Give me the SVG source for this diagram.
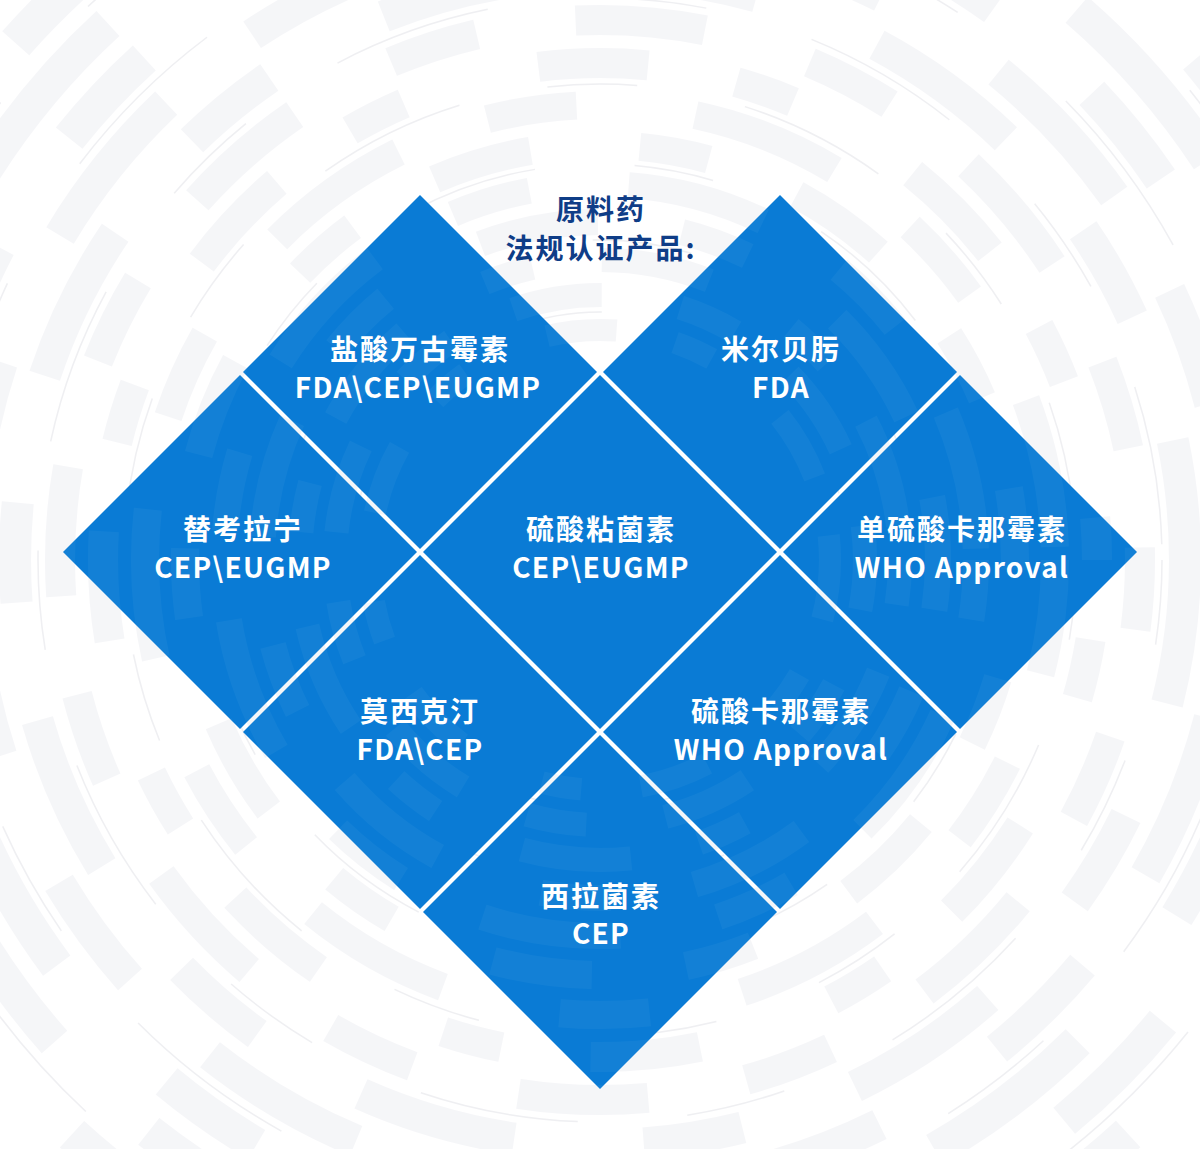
<svg xmlns="http://www.w3.org/2000/svg" xmlns:xlink="http://www.w3.org/1999/xlink" width="1200" height="1149" viewBox="0 0 1200 1149">
  <style>
    .tile { fill: #0b7cd5; }
    .lbl { font-family: "Noto Sans CJK SC", "Noto Sans", sans-serif; font-weight: 700; font-size: 28px; letter-spacing: 2px; text-anchor: middle; fill: #ffffff; }
    .lat { letter-spacing: 1.3px; }
    .title { font-family: "Noto Sans CJK SC", "Noto Sans", sans-serif; font-weight: 700; font-size: 28px; letter-spacing: 2px; text-anchor: middle; fill: #0f3d87; }
  </style>
  <defs>
    <path id="dia" d="M0,-177 L177,0 L0,177 L-177,0 Z"/>
    <g id="rings" fill="none">
      <circle cx="600" cy="560" r="230" stroke-width="22" stroke-dasharray="70 60 40 90" stroke-dashoffset="10"/>
      <circle cx="600" cy="560" r="265" stroke-width="24" stroke-dasharray="90 80 60 70" stroke-dashoffset="40"/>
      <circle cx="600" cy="560" r="300" stroke-width="24" stroke-dasharray="50 70 110 95" stroke-dashoffset="5"/>
      <circle cx="600" cy="560" r="338" stroke-width="26" stroke-dasharray="120 85 70 110" stroke-dashoffset="70"/>
      <circle cx="600" cy="560" r="376" stroke-width="26" stroke-dasharray="80 100 140 90" stroke-dashoffset="20"/>
      <circle cx="600" cy="560" r="415" stroke-width="28" stroke-dasharray="100 110 70 95" stroke-dashoffset="90"/>
      <circle cx="600" cy="560" r="455" stroke-width="28" stroke-dasharray="150 95 90 120" stroke-dashoffset="35"/>
      <circle cx="600" cy="560" r="497" stroke-width="30" stroke-dasharray="110 90 60 140" stroke-dashoffset="120"/>
      <circle cx="600" cy="560" r="540" stroke-width="30" stroke-dasharray="130 110 90 100" stroke-dashoffset="60"/>
      <circle cx="600" cy="560" r="585" stroke-width="32" stroke-dasharray="160 120 100 130" stroke-dashoffset="15"/>
      <circle cx="600" cy="560" r="630" stroke-width="32" stroke-dasharray="120 140 170 110" stroke-dashoffset="100"/>
      <circle cx="600" cy="560" r="678" stroke-width="34" stroke-dasharray="180 130 110 160" stroke-dashoffset="45"/>
      <circle cx="600" cy="560" r="728" stroke-width="34" stroke-dasharray="140 160 200 130" stroke-dashoffset="130"/>
      <circle cx="600" cy="560" r="780" stroke-width="36" stroke-dasharray="210 150 130 180" stroke-dashoffset="25"/>
    </g>
    <g id="ringEdges" fill="none" stroke-width="1.5">
      <circle cx="600" cy="560" r="248" stroke-dasharray="60 90 90 80" stroke-dashoffset="30"/>
      <circle cx="600" cy="560" r="320" stroke-dasharray="100 95 70 110" stroke-dashoffset="0"/>
      <circle cx="600" cy="560" r="396" stroke-dasharray="130 100 80 120" stroke-dashoffset="50"/>
      <circle cx="600" cy="560" r="476" stroke-dasharray="90 110 150 90" stroke-dashoffset="10"/>
      <circle cx="600" cy="560" r="562" stroke-dasharray="160 120 100 110" stroke-dashoffset="75"/>
      <circle cx="600" cy="560" r="654" stroke-dasharray="120 140 180 120" stroke-dashoffset="20"/>
      <circle cx="600" cy="560" r="754" stroke-dasharray="200 150 140 130" stroke-dashoffset="110"/>
    </g>
    <clipPath id="tileClip">
      <path d="M420,195 L597,372 L420,549 L243,372 Z M780,195 L957,372 L780,549 L603,372 Z M240,375 L417,552 L240,729 L63,552 Z M600,375 L777,552 L600,729 L423,552 Z M960,375 L1137,552 L960,729 L783,552 Z M420,555 L597,732 L420,909 L243,732 Z M780,555 L957,732 L780,909 L603,732 Z M600,735 L777,912 L600,1089 L423,912 Z"/>
    </clipPath>
  </defs>

  <rect x="0" y="0" width="1200" height="1149" fill="#ffffff"/>
  <g id="background">
    <use xlink:href="#rings" href="#rings" stroke="#e9eaf0" opacity="0.42"/>
    <use xlink:href="#ringEdges" href="#ringEdges" stroke="#e2e3e8" opacity="0.55"/>
  </g>

  <g id="title">
    <text class="title" x="601" y="220">原料药</text>
    <text class="title" x="601" y="259">法规认证产品:</text>
  </g>

  <g id="tiles">
    <g id="node-vancomycin">
      <use xlink:href="#dia" href="#dia" class="tile" x="420" y="372"/>
    </g>
    <g id="node-milbemycin">
      <use xlink:href="#dia" href="#dia" class="tile" x="780" y="372"/>
    </g>
    <g id="node-teicoplanin">
      <use xlink:href="#dia" href="#dia" class="tile" x="240" y="552"/>
    </g>
    <g id="node-colistin">
      <use xlink:href="#dia" href="#dia" class="tile" x="600" y="552"/>
    </g>
    <g id="node-kanamycin-mono">
      <use xlink:href="#dia" href="#dia" class="tile" x="960" y="552"/>
    </g>
    <g id="node-moxidectin">
      <use xlink:href="#dia" href="#dia" class="tile" x="420" y="732"/>
    </g>
    <g id="node-kanamycin">
      <use xlink:href="#dia" href="#dia" class="tile" x="780" y="732"/>
    </g>
    <g id="node-selamectin">
      <use xlink:href="#dia" href="#dia" class="tile" x="600" y="912"/>
    </g>
  </g>

  <g id="tile-texture" clip-path="url(#tileClip)">
    <use xlink:href="#rings" href="#rings" stroke="#ffffff" opacity="0.035"/>
  </g>

  <g id="labels">
    <g id="label-vancomycin">
      <text class="lbl" x="420" y="360">盐酸万古霉素</text>
      <text class="lbl lat" x="418" y="398">FDA\CEP\EUGMP</text>
    </g>
    <g id="label-milbemycin">
      <text class="lbl" x="781" y="360">米尔贝肟</text>
      <text class="lbl lat" x="781" y="398">FDA</text>
    </g>
    <g id="label-teicoplanin">
      <text class="lbl" x="243" y="540">替考拉宁</text>
      <text class="lbl lat" x="243" y="578">CEP\EUGMP</text>
    </g>
    <g id="label-colistin">
      <text class="lbl" x="601" y="540">硫酸粘菌素</text>
      <text class="lbl lat" x="601" y="578">CEP\EUGMP</text>
    </g>
    <g id="label-kanamycin-mono">
      <text class="lbl" x="962" y="540">单硫酸卡那霉素</text>
      <text class="lbl lat" x="962" y="578">WHO Approval</text>
    </g>
    <g id="label-moxidectin">
      <text class="lbl" x="420" y="722">莫西克汀</text>
      <text class="lbl lat" x="420" y="760">FDA\CEP</text>
    </g>
    <g id="label-kanamycin">
      <text class="lbl" x="781" y="722">硫酸卡那霉素</text>
      <text class="lbl lat" x="781" y="760">WHO Approval</text>
    </g>
    <g id="label-selamectin">
      <text class="lbl" x="601" y="907">西拉菌素</text>
      <text class="lbl lat" x="601" y="944">CEP</text>
    </g>
  </g>
</svg>
